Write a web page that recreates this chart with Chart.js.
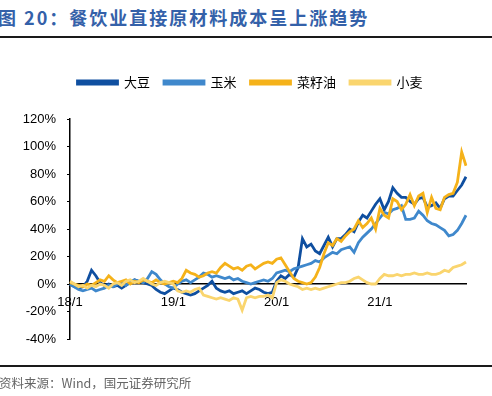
<!DOCTYPE html>
<html>
<head>
<meta charset="utf-8">
<script src="https://cdn.jsdelivr.net/npm/chart.js"></script>
<style>
body{margin:0;width:492px;height:396px;position:relative;background:#fff;overflow:hidden;font-family:"Noto Sans CJK SC",sans-serif}
#title{position:absolute;left:-2px;top:4px;font-size:18px;font-weight:bold;color:#3461a9;letter-spacing:2px;white-space:nowrap}
.rule{position:absolute;left:0;width:492px;height:2px;background:#1a1a1a}
#src{position:absolute;left:-1px;top:373px;font-size:12.5px;color:#666;white-space:nowrap}
canvas{position:absolute;left:0;top:0}
</style>
</head>
<body>
<div id="title">图 20：餐饮业直接原材料成本呈上涨趋势</div>
<div class="rule" style="top:36px"></div>
<canvas id="myChart" width="492" height="396"></canvas>
<div class="rule" style="top:365px"></div>
<div id="src">资料来源：Wind，国元证券研究所</div>
<script>
// 半月一个点, 2018-01 到 2021-11
var dates=[];
for(var y=2018;y<=2021;y++){
    for(var m=1;m<=12;m++){
        if(dates.length>=93) break;
        var mm=(m<10?'0':'')+m;
        dates.push(y+'-'+mm+'-01');
        if(dates.length<93) dates.push(y+'-'+mm+'-16');
    }
}
var tickLabels=['18/1','19/1','20/1','21/1'];

var soybean=[0,-2,-3,-2,2,10,6,1,-1,0,-2,-1,-3,-1,1,3,2,1,0,-1,-4,-6,-7,-5,
    -3,-4,-6,-7,-8,-7,-5,-3,-1,2,-3,-5,-6,-5,-7,-6,-5,-7,-5,-3,-4,-6,-7,-6,
    2,6,4,7,5,12,33,27,29,24,22,28,34,27,33,33,36,40,38,45,50,48,53,58,
    62,54,60,70,66,63,63,60,58,62,63,56,57,59,55,62,64,64,68,72,78];
var corn=[0,-2,-4,-5,-4,-3,-5,-4,-3,-1,-2,0,1,-1,2,3,2,1,4,9,7,3,0,-2,
    -3,0,2,3,1,3,5,8,7,5,6,5,4,5,3,4,2,1,0,1,2,3,2,4,
    8,9,10,9,11,12,13,14,15,17,16,19,21,23,22,25,26,27,23,30,34,37,40,44,
    48,52,51,54,55,57,47,47,48,53,50,46,44,43,41,39,35,36,39,44,50];
var rapeseed=[1,0,-1,-2,0,-1,1,3,2,6,3,1,2,3,0,2,1,3,2,1,3,1,0,1,
    2,1,4,10,8,7,5,6,8,9,8,12,15,13,11,12,10,13,14,11,13,15,16,15,
    18,19,14,9,4,2,1,0,1,5,12,22,30,28,33,31,35,38,40,46,41,44,48,40,
    55,50,48,62,60,54,58,65,57,64,66,52,63,55,54,63,65,66,74,96,86];
var wheat=[2,0,-2,-1,-3,-1,-2,0,-1,-3,0,1,-1,2,3,1,2,4,2,0,-1,1,2,1,
    0,-5,-6,-5,-6,-4,-3,-8,-9,-10,-11,-10,-11,-12,-10,-11,-19,-10,-9,-10,-9,-9,-8,-10,
    1,3,2,0,-1,-2,-4,-3,-4,-3,-4,-3,-2,-1,0,1,1,2,4,5,3,1,0,0,
    4,7,6,6,7,6,7,7,8,7,7,8,7,7,8,10,9,12,13,14,16];

// 图例整体右移一点
var legendShift={
    id:'legendShift',
    afterLayout(chart){
        if(chart.legend){
            chart.legend.left+=17;
            chart.legend.right+=17;
        }
    }
};

function line(label,data,color,order){
    return {label:label,data:data,borderColor:color,backgroundColor:color,
        borderWidth:2.8,pointRadius:0,tension:0,fill:false,order:order};
}

var ctx=document.getElementById('myChart').getContext('2d');
var myChart=new Chart(ctx,{
    type:'line',
    data:{
        labels:dates,
        datasets:[
            line('大豆',soybean,'#0f4fa0',4),
            line('玉米',corn,'#3f88cc',3),
            line('菜籽油',rapeseed,'#f5b21a',2),
            line('小麦',wheat,'#fad56e',1)
        ]
    },
    options:{
        responsive:false,
        animation:false,
        layout:{padding:{top:62,bottom:57,left:0,right:26}},
        plugins:{
            legend:{
                position:'top',
                labels:{
                    boxWidth:40,boxHeight:3,padding:14,color:'#000',
                    font:{size:13,family:'"Noto Sans CJK SC"'},
                    sort:function(a,b){return a.datasetIndex-b.datasetIndex;}
                }
            },
            subtitle:{
                display:true,text:'',weight:500,
                padding:0,font:{size:10,lineHeight:2.0}
            },
            tooltip:{enabled:false}
        },
        scales:{
            x:{
                type:'category',
                position:{y:0},
                offset:false,
                grid:{display:true,drawOnChartArea:false,drawTicks:false},
                border:{display:true,color:'#000',width:1.5},
                ticks:{
                    autoSkip:false,maxRotation:0,padding:11,color:'#000',
                    font:{size:13,family:'"Liberation Sans"'},
                    callback:function(v){
                        var d=this.getLabelForValue(v);
                        if(d.slice(5)==='01-01') return tickLabels[parseInt(d.slice(0,4))-2018];
                        return '';
                    }
                }
            },
            y:{
                min:-40,max:120,
                afterFit:function(s){s.width=70;},
                grid:{display:true,drawOnChartArea:false,drawTicks:true,tickLength:3,color:'#000'},
                border:{display:true,color:'#000',width:1.5},
                ticks:{
                    stepSize:20,padding:11,color:'#000',
                    font:{size:13,family:'"Liberation Sans"'},
                    callback:function(v){return v+'%';}
                }
            }
        }
    },
    plugins:[legendShift]
});
</script>
</body>
</html>
